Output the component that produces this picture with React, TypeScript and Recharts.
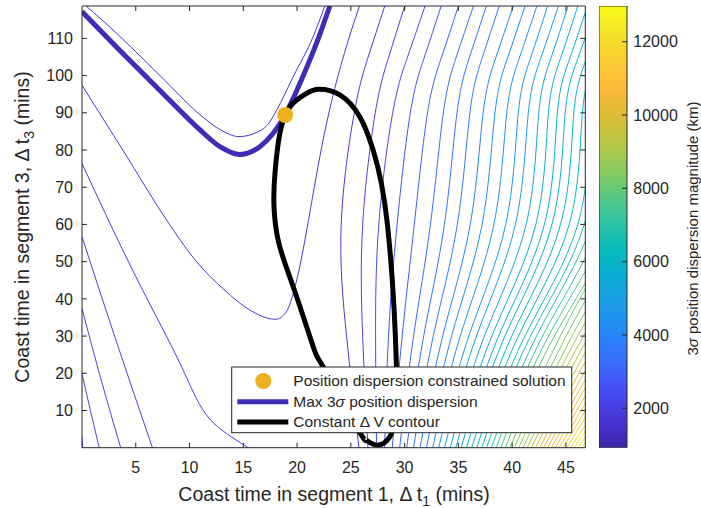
import React from "react";
import {
  ComposedChart,
  Line,
  Scatter,
  Bar,
  XAxis,
  YAxis,
  ReferenceLine,
} from "recharts";

// axes
const t1Range = [0, 46.8];
const t3Range = [0, 118.7];
const t1Ticks = [5, 10, 15, 20, 25, 30, 35, 40, 45];
const t3Ticks = [10, 20, 30, 40, 50, 60, 70, 80, 90, 100, 110];
const cbarRange = [925, 12975];
const cbarTicks = [2000, 4000, 6000, 8000, 10000, 12000];

// right-hand contour family: t1 of each level at these t3 rows
const familyRows = [0, 30, 60, 90, 105, 118.7];
const familyLevels = [
  1850, 2100, 2350, 2600, 2850, 3100, 3350, 3600, 3850, 4100, 4350, 4600,
  4850, 5100, 5350, 5600, 5850, 6100, 6350, 6600, 6850, 7100, 7350, 7600,
  7850, 8100, 8350, 8600, 8850, 9100, 9350, 9600, 9850, 10100, 10350, 10600,
  10850, 11100, 11350, 11600, 11850, 12100, 12350, 12600, 12850,
];
const familyT1 = [
  [25.75, 24.6, 24.1, 25.32, 26.61, 28.15],
  [26.59, 26.1, 26.1, 27.27, 28.52, 30.0],
  [27.39, 27.3, 27.6, 28.89, 30.27, 31.9],
  [28.14, 28.5, 29.3, 30.53, 31.84, 33.4],
  [28.85, 29.77, 30.9, 32.13, 33.44, 35.0],
  [29.54, 30.83, 32.4, 33.6, 34.8, 36.4],
  [30.19, 31.77, 33.7, 34.87, 36.04, 37.6],
  [30.83, 32.66, 34.9, 36.07, 37.24, 38.8],
  [31.44, 33.54, 36.1, 37.3, 38.5, 40.1],
  [32.03, 34.36, 37.2, 38.4, 39.6, 41.2],
  [32.61, 35.17, 38.3, 39.5, 40.7, 42.3],
  [33.17, 35.97, 39.4, 40.57, 41.74, 43.3],
  [33.71, 36.68, 40.3, 41.5, 42.7, 44.3],
  [34.24, 37.42, 41.3, 42.47, 43.64, 45.2],
  [34.76, 38.11, 42.2, 43.37, 44.54, 46.1],
  [35.26, 38.74, 43.0, 44.2, 45.4, 47.0],
  [35.75, 39.33, 43.7, 44.93, 46.16, 47.8],
  [36.24, 39.96, 44.5, 45.73, 46.96, 48.6],
  [36.71, 40.58, 45.3, 46.53, 47.76, 49.4],
  [37.18, 41.19, 46.1, 47.33, 48.56, 50.2],
  [37.63, 41.71, 46.7, 47.99, 49.28, 51.0],
  [38.08, 42.27, 47.4, 48.7],
  [38.52, 42.83, 48.1, 49.4],
  [38.95, 43.38, 48.8, 50.1],
  [39.37, 43.93, 49.5, 50.8],
  [39.79, 44.47, 50.2],
  [40.2, 45.02, 50.9],
  [40.61, 45.56, 51.6],
  [41.01, 46.09, 52.3],
  [41.4, 46.62, 53.0],
  [41.79, 47.15, 53.7],
  [42.18, 47.68, 54.4],
  [42.56, 48.2, 55.1],
  [42.93, 48.72, 55.8],
  [43.3, 49.24, 56.5],
  [43.66, 49.75, 57.2],
  [44.02, 50.27, 57.9],
  [44.38, 50.78, 58.6],
  [44.73, 51.29, 59.3],
  [45.08, 51.8, 60.0],
  [45.43, 52.3],
  [45.77, 52.8],
  [46.11, 53.3],
  [46.44, 53.8],
  [46.77, 54.3],
];

// left-hand contours as [t1, t3] pairs
const innerU = [
  [0.38, 118.7], [2.61, 113], [7.25, 100], [10.97, 89.5], [12.83, 85.5],
  [14.6, 83.6], [16.3, 84.8], [17.4, 87.3], [18.1, 90.7], [19.64, 99.7],
  [21.5, 110.5], [22.58, 118.7],
];
const valleyU = [
  [0, 97.4], [3.9, 79.5], [7.86, 61.2], [10.5, 50.5], [13.2, 42.5],
  [15.6, 37], [18, 34.5], [19.0, 36.5], [19.6, 41], [20.2, 48],
  [20.9, 58.5], [21.6, 70], [22.3, 81], [23.2, 93], [24.4, 106], [25.8, 118.7],
];
const leftB = [
  [0, 76.4], [2.45, 61.2], [5.0, 46], [7.4, 32.5], [9.3, 21.5], [10.96, 11.5],
  [12.8, 5.2], [15.46, 0],
];
const leftC = [[0, 56.7], [3.2, 28.5], [6.55, 0]];
const leftD = [[0, 37.4], [1.75, 18.5], [3.6, 0]];
const leftE = [[0, 19.9], [0.78, 10], [1.6, 0]];
const leftF = [[0, 3], [0.07, 0]];

const uShapes = [
  { pts: innerU, level: 1750 },
  { pts: valleyU, level: 1850 },
];
const wallLines = [
  { pts: leftB, level: 1950 },
  { pts: leftC, level: 2050 },
  { pts: leftD, level: 2150 },
  { pts: leftE, level: 2250 },
  { pts: leftF, level: 2350 },
];

// max 3-sigma dispersion contour
const maxDispersion = [
  [0, 117.2], [2.61, 109.4], [7.25, 96.0], [10.97, 85.4], [12.83, 80.9],
  [14.68, 78.8], [16.54, 80.9], [17.78, 84.5], [18.89, 89.4], [20.26, 97.9],
  [21.81, 108.7], [23.05, 118.7],
];

// constant delta-V contour (closed loop)
const deltaV = [
  [26.45, 2.0], [25.52, 5.6], [22.42, 21.75], [21.5, 27.12], [19.64, 43.25],
  [18.3, 55], [17.85, 65], [17.95, 74], [18.4, 84.5], [19.33, 91.6],
  [20.88, 95.2], [22.0, 96.3], [23.97, 94.8], [25.83, 88.95], [27.07, 80.0],
  [28.4, 60], [29.24, 21.75], [29.09, 7.4], [28.62, 2.9], [27.53, 0.7],
  [26.45, 2.0],
];

const solution = [{ x: 18.89, y: 89.4 }];
const colorBar = [{ name: "cb", range: cbarRange }];

const FONT = "'Liberation Sans', Arial, Helvetica, sans-serif";
const INK = "#262626";

const PARULA: [number, number[]][] = [
  [0.0, [62, 38, 168]],
  [0.05, [69, 48, 206]],
  [0.1, [72, 66, 232]],
  [0.15, [68, 87, 249]],
  [0.2, [56, 111, 254]],
  [0.25, [39, 132, 250]],
  [0.3, [30, 149, 238]],
  [0.35, [23, 162, 224]],
  [0.4, [8, 176, 208]],
  [0.45, [9, 186, 188]],
  [0.5, [40, 194, 169]],
  [0.55, [73, 200, 142]],
  [0.6, [115, 203, 110]],
  [0.65, [154, 202, 84]],
  [0.7, [190, 197, 64]],
  [0.75, [221, 189, 54]],
  [0.8, [248, 185, 59]],
  [0.85, [254, 196, 54]],
  [0.9, [246, 212, 46]],
  [0.95, [244, 232, 37]],
  [1.0, [249, 251, 21]],
];

function parula(level: number) {
  const f = Math.min(1, Math.max(0, (level - cbarRange[0]) / (cbarRange[1] - cbarRange[0])));
  let i = 0;
  while (i < PARULA.length - 2 && f > PARULA[i + 1][0]) i++;
  const [f0, c0] = PARULA[i];
  const [f1, c1] = PARULA[i + 1];
  const u = (f - f0) / (f1 - f0);
  const c = c0.map((v, k) => Math.round(v + (c1[k] - v) * u));
  return `rgb(${c[0]},${c[1]},${c[2]})`;
}

const toPts = (pairs: number[][]) => pairs.map(([x, y]) => ({ x, y }));

const familySeries = familyT1.map((row) =>
  row.map((t1, j) => ({ x: t1, y: familyRows[j] }))
);

function contour(key: string, pts: { x: number; y: number }[], stroke: string, type: any, width = 1) {
  return (
    <Line
      key={key}
      data={pts}
      dataKey="y"
      type={type}
      stroke={stroke}
      strokeWidth={width}
      dot={false}
      activeDot={false}
      legendType="none"
      isAnimationActive={false}
    />
  );
}

export default function App() {
  const tx = 0.46; // inward tick length in t1 units
  const ty = 1.35; // inward tick length in t3 units
  const tickFont = { fill: INK, fontSize: 16, fontFamily: FONT };
  return (
    <div style={{ position: "absolute", left: 0, top: 0, width: 701, height: 508, background: "#fff" }}>
      <svg width={0} height={0} style={{ position: "absolute" }}>
        <defs>
          <linearGradient id="parulaGrad" x1="0" y1="1" x2="0" y2="0">
            {PARULA.map(([f, c]) => (
              <stop key={f} offset={f} stopColor={`rgb(${c[0]},${c[1]},${c[2]})`} />
            ))}
          </linearGradient>
        </defs>
      </svg>

      <div style={{ position: "absolute", left: 0, top: 0 }}>
        <ComposedChart width={701} height={508} margin={{ top: 6, right: 115.7, bottom: 0, left: 0 }}>
          <XAxis
            type="number"
            dataKey="x"
            domain={t1Range}
            ticks={t1Ticks}
            allowDataOverflow
            height={60.3}
            tickLine={false}
            tickSize={6}
            tickMargin={8}
            axisLine={{ stroke: INK }}
            tick={tickFont}
          />
          <YAxis
            type="number"
            dataKey="y"
            domain={t3Range}
            ticks={t3Ticks}
            allowDataOverflow
            width={82}
            tickLine={false}
            tickSize={4}
            tickMargin={5}
            axisLine={{ stroke: INK }}
            tick={tickFont}
          />

          {familySeries.map((pts, i) => contour(`f${i}`, pts, parula(familyLevels[i]), "natural"))}
          {uShapes.map((l, i) => contour(`u${i}`, toPts(l.pts), parula(l.level), "monotone"))}
          {wallLines.map((l, i) => contour(`w${i}`, toPts(l.pts), parula(l.level), "natural"))}

          {contour("max", toPts(maxDispersion), "#3e2db5", "monotone", 5)}
          {contour("dv", toPts(deltaV), "#000", "natural", 5)}
          <Scatter
            data={solution}
            dataKey="y"
            isAnimationActive={false}
            shape={(p: any) => <circle cx={p.cx} cy={p.cy} r={8} fill="#edb120" />}
          />

          <ReferenceLine y={t3Range[1]} stroke={INK} />
          <ReferenceLine x={t1Range[1]} stroke={INK} />
          {t1Ticks.map((v) => (
            <ReferenceLine key={`bx${v}`} stroke={INK} segment={[{ x: v, y: 0 }, { x: v, y: ty }]} />
          ))}
          {t1Ticks.map((v) => (
            <ReferenceLine key={`tx${v}`} stroke={INK} segment={[{ x: v, y: t3Range[1] - ty }, { x: v, y: t3Range[1] }]} />
          ))}
          {t3Ticks.map((v) => (
            <ReferenceLine key={`ly${v}`} stroke={INK} segment={[{ x: 0, y: v }, { x: tx, y: v }]} />
          ))}
          {t3Ticks.map((v) => (
            <ReferenceLine key={`ry${v}`} stroke={INK} segment={[{ x: t1Range[1] - tx, y: v }, { x: t1Range[1], y: v }]} />
          ))}
        </ComposedChart>
      </div>

      {/* colour bar */}
      <div style={{ position: "absolute", left: 599, top: 0 }}>
        <ComposedChart
          width={102}
          height={508}
          data={colorBar}
          barCategoryGap={0}
          margin={{ top: 6, right: 0, bottom: 60.3, left: 0 }}
        >
          <XAxis type="category" dataKey="name" hide />
          <YAxis
            type="number"
            orientation="right"
            domain={cbarRange}
            ticks={cbarTicks}
            allowDataOverflow
            width={74}
            axisLine={false}
            tickLine={{ stroke: INK }}
            tickSize={-5}
            tickMargin={11.3}
            tick={tickFont}
          />
          <Bar dataKey="range" fill="url(#parulaGrad)" stroke={INK} strokeWidth={1} isAnimationActive={false} />
        </ComposedChart>
      </div>

      {/* titles and legend */}
      <svg
        width={701}
        height={508}
        style={{ position: "absolute", left: 0, top: 0, pointerEvents: "none" }}
        fontFamily={FONT}
        fill={INK}
      >
        <text x={334} y={500.5} textAnchor="middle" fontSize={19.5}>
          Coast time in segment 1, Δ t<tspan dy={5} fontSize={14}>1</tspan>
          <tspan dy={-5}> (mins)</tspan>
        </text>
        <text transform="translate(29,227) rotate(-90)" textAnchor="middle" fontSize={19.5}>
          Coast time in segment 3, Δ t<tspan dy={5} fontSize={14}>3</tspan>
          <tspan dy={-5}> (mins)</tspan>
        </text>
        <text transform="translate(698,228.5) rotate(-90)" textAnchor="middle" fontSize={15}>
          3<tspan fontStyle="italic">σ</tspan> position dispersion magnitude (km)
        </text>

        <rect x={231.7} y={367} width={340} height={65.7} fill="#fff" stroke={INK} strokeWidth={1} />
        <circle cx={263.3} cy={381} r={8} fill="#edb120" />
        <line x1={237.3} x2={288.3} y1={401.8} y2={401.8} stroke="#3e2db5" strokeWidth={5} />
        <line x1={237.3} x2={288.3} y1={422} y2={422} stroke="#000" strokeWidth={5} />
        <text x={293.3} y={386.4} fontSize={15.5}>Position dispersion constrained solution</text>
        <text x={293.3} y={407.2} fontSize={15.5}>
          Max 3<tspan fontStyle="italic">σ</tspan> position dispersion
        </text>
        <text x={293.3} y={427.4} fontSize={15.5}>Constant Δ V contour</text>
      </svg>
    </div>
  );
}
